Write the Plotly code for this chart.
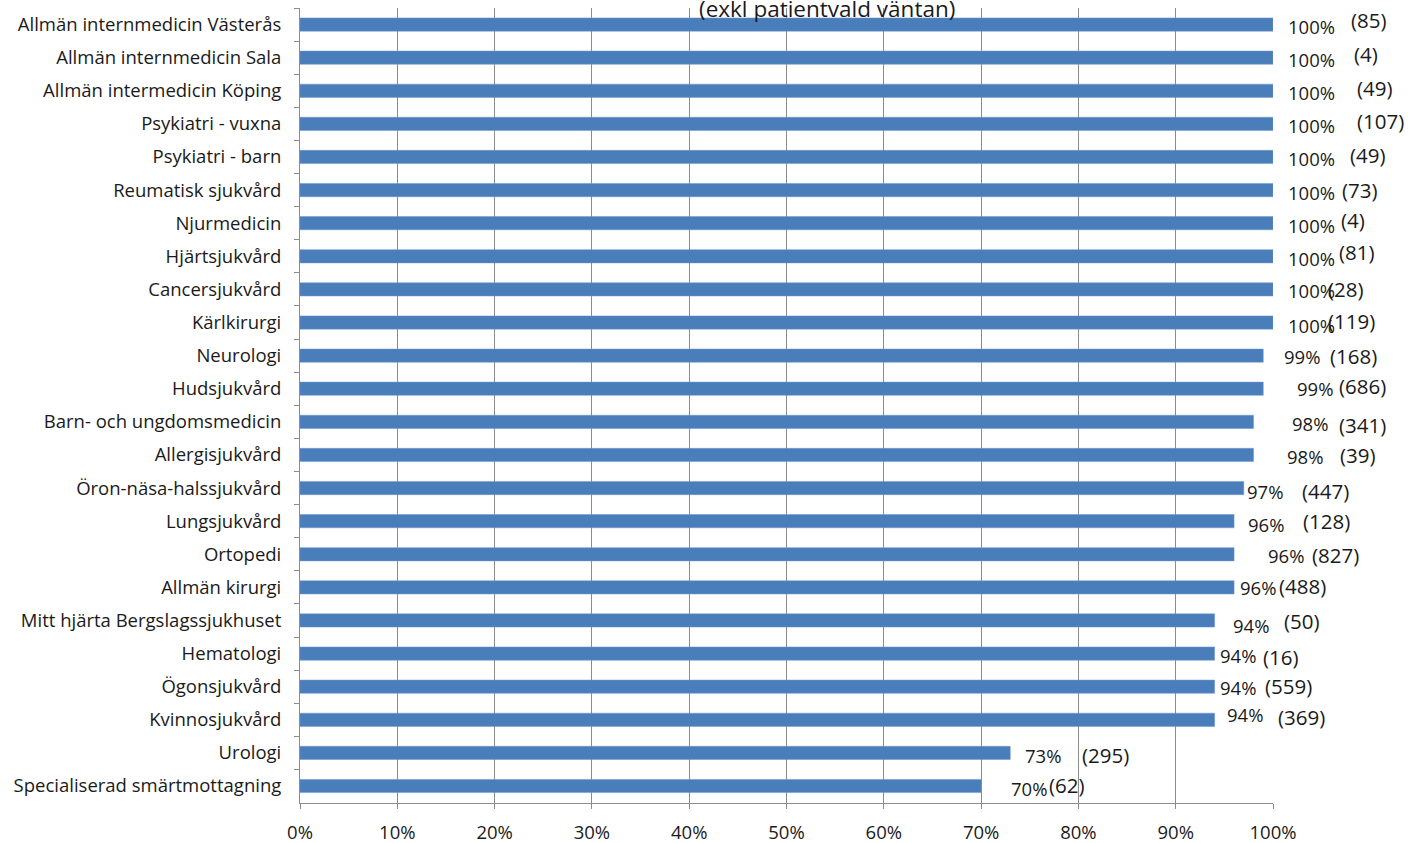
import plotly.graph_objects as go

categories = [
    "Allmän internmedicin Västerås",
    "Allmän internmedicin Sala",
    "Allmän intermedicin Köping",
    "Psykiatri - vuxna",
    "Psykiatri - barn",
    "Reumatisk sjukvård",
    "Njurmedicin",
    "Hjärtsjukvård",
    "Cancersjukvård",
    "Kärlkirurgi",
    "Neurologi",
    "Hudsjukvård",
    "Barn- och ungdomsmedicin",
    "Allergisjukvård",
    "Öron-näsa-halssjukvård",
    "Lungsjukvård",
    "Ortopedi",
    "Allmän kirurgi",
    "Mitt hjärta Bergslagssjukhuset",
    "Hematologi",
    "Ögonsjukvård",
    "Kvinnosjukvård",
    "Urologi",
    "Specialiserad smärtmottagning",
]
percent_values = [100, 100, 100, 100, 100, 100, 100, 100, 100, 100,
                  99, 99, 98, 98, 97, 96, 96, 96, 94, 94, 94, 94, 73, 70]
counts = [85, 4, 49, 107, 49, 73, 4, 81, 28, 119, 168, 686, 341, 39,
          447, 128, 827, 488, 50, 16, 559, 369, 295, 62]
x_ticks = [0, 10, 20, 30, 40, 50, 60, 70, 80, 90, 100]
title_text = "(exkl patientvald väntan)"

# label offsets (pixels, relative to bar end / bar center)
pct_dx = [13, 13, 13, 13, 13, 13, 13, 13, 13, 13, 19, 32, 36, 31, 1, 12, 32, 4, 16, 3, 3, 10, 13, 28]
pct_dy = [2, 2, 2, 2, 2, 2, 2, 2, 1, 3, 1, 0, 2, 2, 3, 3, 1, 0, 5, 2, 1, -5, 3, 2]
cnt_dx = [76, 79, 82, 82, 75, 67, 66, 64, 53, 53, 65, 74, 83, 84, 56, 67, 76, 43, 67, 46, 48, 61, 70, 66]
cnt_dy = [-5, -4, -3, -3, -2, 0, -3, -4, 0, -2, 0, -3, 3, 0, 3, 0, 1, -1, 1, 3, -1, -3, 2, -1]

FONT = "Open Sans"
TXT = "#1a1a1a"
fig = go.Figure()
fig.add_trace(go.Bar(
    y=categories, x=percent_values, orientation="h",
    marker=dict(color="#4a7ebb", line=dict(color="#6f96cc", width=0.5)),
    width=0.4, hoverinfo="skip",
))

annotations = []
for i, (cat, v, n) in enumerate(zip(categories, percent_values, counts)):
    annotations.append(dict(
        x=v, y=cat, xref="x", yref="y", text=f"{v}%", showarrow=False,
        xanchor="left", yanchor="middle", xshift=pct_dx[i], yshift=-pct_dy[i],
        font=dict(family=FONT, size=18.5, color=TXT),
    ))
    annotations.append(dict(
        x=v, y=cat, xref="x", yref="y", text=f"({n})", showarrow=False,
        xanchor="left", yanchor="middle", xshift=cnt_dx[i], yshift=-cnt_dy[i],
        font=dict(family=FONT, size=20.5, color=TXT),
    ))
annotations.append(dict(
    x=(827 - 300) / 973, xref="paper", y=1, yref="paper", text=title_text,
    showarrow=False, xanchor="center", yanchor="middle", yshift=0,
    font=dict(family=FONT, size=22.5, color=TXT),
))

fig.update_layout(
    width=1420, height=843,
    margin=dict(l=300, r=147, t=8, b=40),
    plot_bgcolor="white", paper_bgcolor="white",
    showlegend=False,
    annotations=annotations,
    font=dict(family=FONT, color=TXT),
)
fig.update_xaxes(
    range=[0, 100], tickvals=x_ticks, ticktext=[f"{t}%" for t in x_ticks],
    showgrid=True, gridcolor="#8c8c8c", gridwidth=1,
    showline=True, linecolor="#8c8c8c", linewidth=1,
    ticks="outside", ticklen=5, tickcolor="#8c8c8c",
    ticklabelstandoff=8, automargin=False,
    tickfont=dict(family=FONT, size=18.5, color=TXT),
    zeroline=False, fixedrange=True,
)
fig.update_yaxes(
    autorange="reversed", type="category",
    showline=True, linecolor="#8c8c8c", linewidth=1,
    ticks="outside", ticklen=5, tickcolor="#8c8c8c", tickson="boundaries",
    showgrid=False, ticklabelstandoff=14, automargin=False,
    tickfont=dict(family=FONT, size=18.5, color=TXT),
    fixedrange=True,
)

fig.write_html("out.html")
